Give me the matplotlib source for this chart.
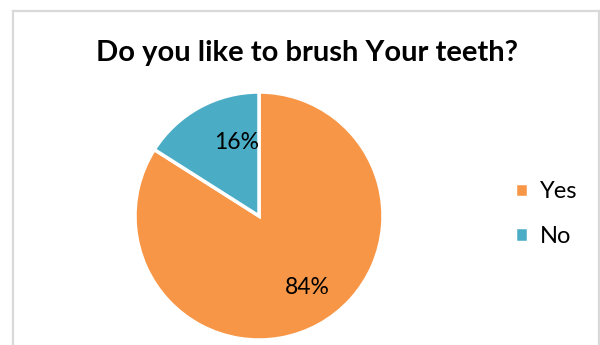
import matplotlib.pyplot as plt
from matplotlib.lines import Line2D

plt.rcParams['font.family'] = ['Lato', 'DejaVu Sans']

title = "Do you like to brush Your teeth?"
labels = ["Yes", "No"]
shares = [84, 16]
colors = ["#F79646", "#4BACC6"]
# where the percentage labels sit, in pie radii
label_pos = [(0.39, -0.58), (-0.18, 0.59)]

fig = plt.figure(figsize=(6, 3.45), dpi=100)

# light grey chart frame (open at the bottom)
frame_color = "#d9d9d9"
fig.add_artist(Line2D([13 / 600, 13 / 600], [0, 1 - 11 / 345], color=frame_color, lw=1.6))
fig.add_artist(Line2D([13 / 600, 598.5 / 600], [1 - 11 / 345, 1 - 11 / 345], color=frame_color, lw=1.6))
fig.add_artist(Line2D([598.5 / 600, 598.5 / 600], [0, 1 - 11 / 345], color=frame_color, lw=1.6))

fig.text(307 / 600, 1 - 53 / 345, title, ha="center", va="center",
         fontsize=21, fontweight="bold")

# pie centred at about (259, 216) px, radius ~124 px
ax = fig.add_axes([(259 - 124) / 600, (345 - 216 - 124) / 345, 248 / 600, 248 / 345])
wedges, texts, autotexts = ax.pie(
    shares, colors=colors, startangle=90, counterclock=False,
    autopct=lambda p: f"{p:.0f}%",
    wedgeprops=dict(edgecolor="white", linewidth=2.5),
    textprops=dict(fontsize=16.5, color="black"),
)
for t, pos in zip(autotexts, label_pos):
    t.set_position(pos)
ax.set_xlim(-1.0, 1.0)
ax.set_ylim(-1.0, 1.0)
ax.set_aspect("equal")

ax.legend(wedges, labels, loc="center left", bbox_to_anchor=(494 / 600, 1 - 214 / 345),
          bbox_transform=fig.transFigure, frameon=False, fontsize=17,
          handlelength=0.55, handleheight=0.55, handletextpad=0.5, labelspacing=1.0)

fig.savefig("out.png", dpi=100)
